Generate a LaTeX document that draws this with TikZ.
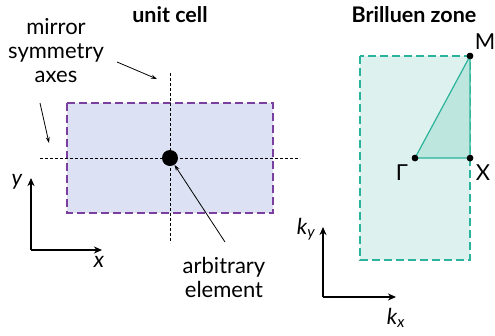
\documentclass[tikz,border=0pt]{standalone}
\usepackage{fontspec}
\setmainfont{Lato}
\usetikzlibrary{arrows.meta}
\definecolor{purp}{HTML}{7B3FA0}
\definecolor{cellfill}{HTML}{DCE1F3}
\definecolor{teal1}{HTML}{2BB39B}
\definecolor{bzfill}{HTML}{DDF1EE}
\definecolor{ibz}{HTML}{BDE6DF}
\tikzset{
  lbl/.style={font=\fontsize{22}{24}\selectfont, inner sep=0pt, align=center},
  ilbl/.style={font=\fontsize{22}{24}\selectfont\itshape, inner sep=0pt},
  ttl/.style={font=\fontsize{21.5}{24}\selectfont\bfseries, inner sep=0pt},
  axis/.style={-{Stealth[length=8pt,width=7pt,inset=2.5pt]}, line width=1.4pt},
  pointer/.style={line width=0.8pt, -{Stealth[length=6pt,width=4pt]}},
  mirror/.style={line width=0.7pt, dash pattern=on 3pt off 2pt},
  vtx/.style={circle, fill=black, inner sep=0pt, minimum size=6.5pt},
}
\begin{document}
\begin{tikzpicture}[x=1pt,y=-1pt]
\useasboundingbox (0,0) rectangle (495,335);
% unit cell
\draw[purp, fill=cellfill, line width=1.2pt, dash pattern=on 8pt off 4pt] (67,103) rectangle (273,213);
\coordinate (hl) at (40,158); \coordinate (hr) at (300,158);
\coordinate (vt) at (170,73); \coordinate (vb) at (170,243);
\draw[mirror] (hl) -- (hr);
\draw[mirror] (vt) -- (vb);
\node[circle, fill=black, inner sep=0pt, minimum size=16pt] (el) at (170,158) {};
\node[ttl] (uc) at (170,15) {unit cell};
\node[lbl] (mir) at (56,51) {mirror\\symmetry\\axes};
\coordinate (a1s) at (117,62); \coordinate (a1e) at (157,79);
\coordinate (a2s) at (40,103); \coordinate (a2e) at (49,143);
\draw[pointer] (a1s) -- (a1e);
\draw[pointer] (a2s) -- (a2e);
\node[lbl] (arb) at (224,277) {arbitrary\\element};
\coordinate (a3s) at (225,242);
\draw[pointer] (a3s) -- (el);
% xy axes
\coordinate (o1) at (31,250);
\coordinate (yend) at (31,178); \coordinate (xend) at (102,250);
\draw[axis] (o1) -- (yend);
\draw[axis] (o1) -- (xend);
\node[ilbl] (ylab) at (17,182) {y};
\node[ilbl] (xlab) at (99,262) {x};
% Brillouin zone
\node[ttl] (bzt) at (414,15) {Brilluen zone};
\draw[teal1, fill=bzfill, line width=1.2pt, dash pattern=on 8pt off 4pt] (360,56) rectangle (470,260);
\node[vtx] (G) at (415,158) {};
\node[vtx] (X) at (470,158) {};
\node[vtx] (M) at (470,56) {};
\fill[ibz] (G.center) -- (X.center) -- (M.center) -- cycle;
\draw[teal1, line width=1.2pt] (G.center) -- (X.center) -- (M.center) -- cycle;
\node[vtx] at (G) {};
\node[vtx] at (X) {};
\node[vtx] at (M) {};
\node[lbl] (Ml) at (485,42) {M};
\node[lbl] (Xl) at (483,173) {X};
\node[lbl] (Gl) at (402,173) {Γ};
% k axes
\coordinate (o2) at (323,297);
\coordinate (kyend) at (323,227); \coordinate (kxend) at (396,297);
\draw[axis] (o2) -- (kyend);
\draw[axis] (o2) -- (kxend);
\node[ilbl] (kyl) at (306,229) {k\textsubscript{y}};
\node[ilbl] (kxl) at (396,318) {k\textsubscript{x}};
\end{tikzpicture}
\end{document}
